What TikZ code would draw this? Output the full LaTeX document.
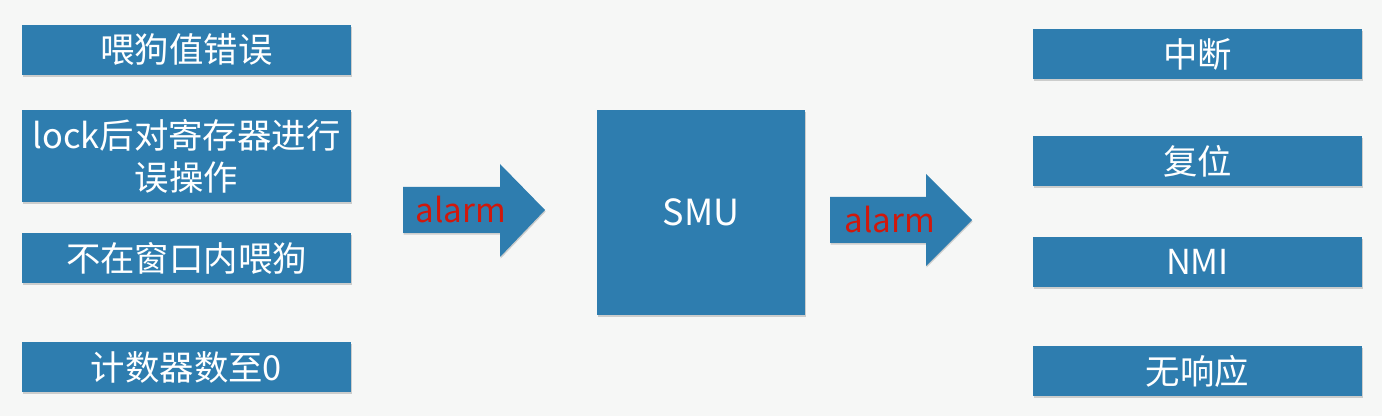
\documentclass[tikz,border=0pt]{standalone}
\usepackage{fontspec}
\setmainfont{Noto Sans CJK SC}
\usetikzlibrary{shadows}
\definecolor{boxblue}{HTML}{2E7DAF}
\definecolor{alarmred}{HTML}{D0180C}
\definecolor{bgwhite}{HTML}{F6F7F6}

\begin{document}
\begin{tikzpicture}[x=0.5pt, y=-0.5pt,
  boxshadow/.style={drop shadow={shadow xshift=0.3pt, shadow yshift=-0.8pt, opacity=0.35}},
  item/.style={fill=boxblue, text=white, boxshadow, minimum width=164.5pt,
    minimum height=25pt, inner sep=0pt, align=center,
    font=\fontsize{17.2}{21}\selectfont},
  alarmtext/.style={text=alarmred, inner sep=0pt, font=\fontsize{16.6}{18}\selectfont}]

  % Background
  \fill[bgwhite] (0,0) rectangle (1382,416);
  \useasboundingbox (0,0) rectangle (1382,416);

  % Error sources (left)
  \node[item] (feed) at (186.5,50) {喂狗值错误};
  \node[item, minimum height=46pt] (lock) at (186.5,156) {lock后对寄存器进行\\误操作};
  \node[item] (window) at (186.5,258.5) {不在窗口内喂狗};
  \node[item] (count) at (186.5,367) {计数器数至0};

  % Safety management unit
  \node[fill=boxblue, text=white, boxshadow, minimum width=104pt, minimum height=102.5pt,
    font=\fontsize{18}{20}\selectfont] (smu) at (701,212.5) {SMU};

  % Alarm arrows
  \fill[boxblue, boxshadow] (403,187) -- (500,187) -- (500,164) -- (545,210)
    -- (500,257) -- (500,233) -- (403,233) -- cycle;
  \node[alarmtext] (alarmin) at (461,210) {alarm};

  \fill[boxblue, boxshadow] (830,197) -- (926,197) -- (926,174) -- (972,220)
    -- (926,266) -- (926,243) -- (830,243) -- cycle;
  \node[alarmtext] (alarmout) at (890,220) {alarm};

  % Reactions (right)
  \node[item] (irq) at (1197.5,54) {中断};
  \node[item] (reset) at (1197.5,161) {复位};
  \node[item] (nmi) at (1197.5,262) {NMI};
  \node[item] (none) at (1197.5,371.5) {无响应};

\end{tikzpicture}
\end{document}
